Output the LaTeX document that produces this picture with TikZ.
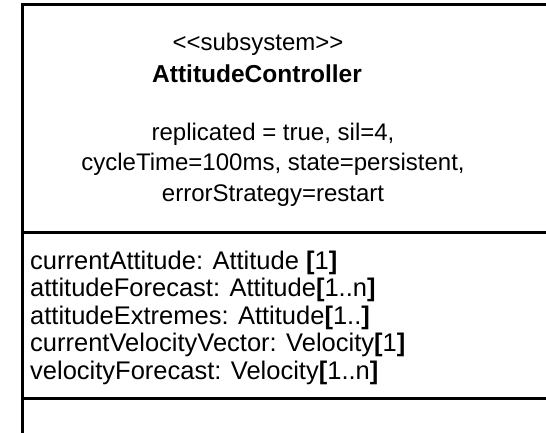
\documentclass[tikz,border=0pt]{standalone}
\usepackage{fontspec}
\setmainfont{Liberation Sans}
\newcommand{\mlb}{\textbf{[}}
\newcommand{\mrb}{\textbf{]}}
\begin{document}
\begin{tikzpicture}[x=1pt,y=1pt,
  frame/.style={line width=3pt, line cap=rect},
  hdr/.style={anchor=base, inner sep=0pt, font=\fontsize{24}{28}\selectfont},
  attr/.style={anchor=base west, inner sep=0pt, font=\fontsize{25.5}{28}\selectfont}]
\useasboundingbox (0,0) rectangle (546,-433);
\fill[white] (0,0) rectangle (546,-433);
% frame of the class box (continues past the right and bottom edges)
\coordinate (tl) at (22,-5);
\coordinate (tr) at (548,-5);
\coordinate (bl) at (22,-435);
\coordinate (s1l) at (22,-232);
\coordinate (s1r) at (548,-232);
\coordinate (s2l) at (22,-398);
\coordinate (s2r) at (548,-398);
\draw[frame] (tr) -- (tl) -- (bl);
\draw[frame] (s1l) -- (s1r);
\draw[frame] (s2l) -- (s2r);
% name compartment
\node[hdr] (stereo) at (258,-51) {<{}<subsystem>{}>};
\node[hdr, font=\fontsize{24.5}{28}\selectfont\bfseries] (name) at (257,-83) {AttitudeController};
\node[hdr] (tag1) at (273,-141) {replicated = true, sil=4,};
\node[hdr] (tag2) at (273,-171) {cycleTime=100ms, state=persistent,};
\node[hdr] (tag3) at (273,-201) {errorStrategy=restart};
% attribute compartment
\node[attr] (a1) at (30,-269) {currentAttitude: Attitude \mlb1\mrb};
\node[attr] (a2) at (30,-296.5) {attitudeForecast: Attitude\mlb1..n\mrb};
\node[attr] (a3) at (30,-324) {attitudeExtremes: Attitude\mlb1..\mrb};
\node[attr] (a4) at (30,-351.5) {currentVelocityVector: Velocity\mlb1\mrb};
\node[attr] (a5) at (30,-379) {velocityForecast: Velocity\mlb1..n\mrb};
\end{tikzpicture}
\end{document}
